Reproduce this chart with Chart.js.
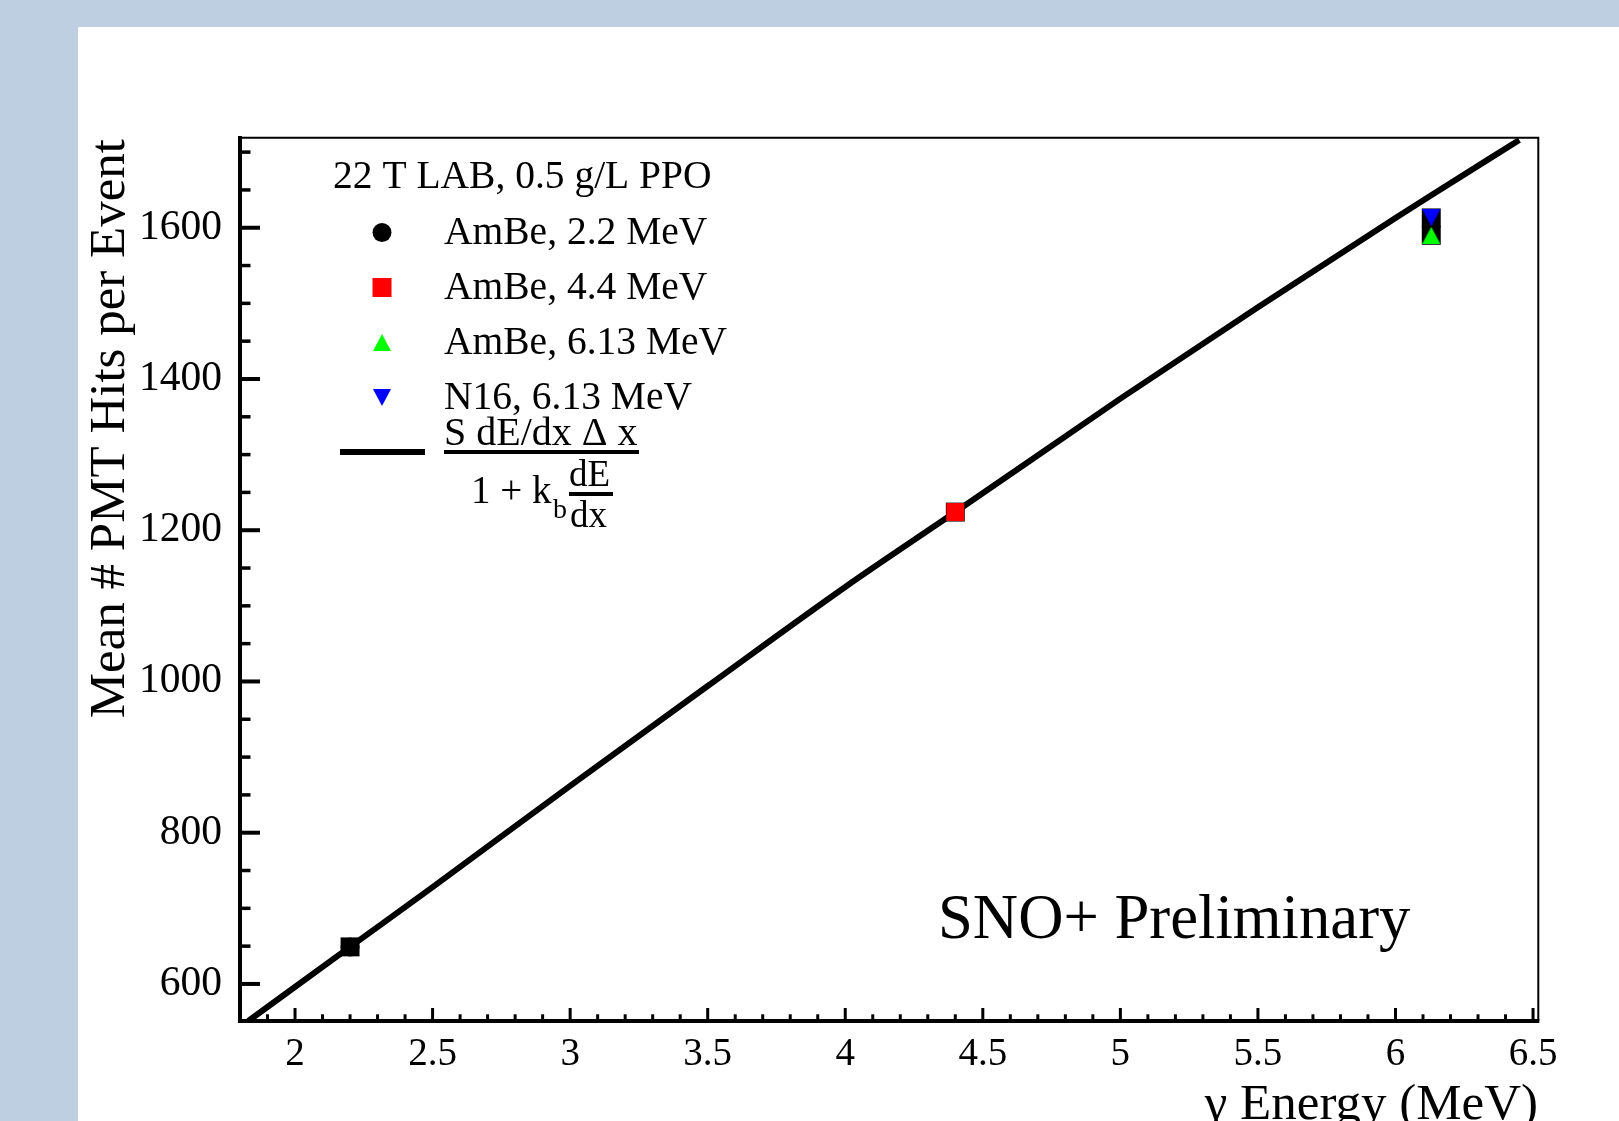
<!DOCTYPE html>
<html><head><meta charset="utf-8">
<script src="https://cdn.jsdelivr.net/npm/chart.js"></script>
<style>
html,body{margin:0;padding:0;background:#bdcfe0;overflow:hidden;width:1619px;height:1121px;}
#paper{position:absolute;left:78px;top:27px;width:1541px;height:1094px;background:#fff;}
#c{position:absolute;left:0;top:0;}
</style></head><body>
<div id="paper"></div>
<canvas id="c" width="1619" height="1121"></canvas>
<script>
// ---------------- data ----------------
const headerText = '22 T LAB, 0.5 g/L PPO';
const seriesLabels = ['AmBe, 2.2 MeV', 'AmBe, 4.4 MeV', 'AmBe, 6.13 MeV', 'N16, 6.13 MeV'];
const seriesX = [2.2, 4.4, 6.13, 6.13];
const seriesY = [649, 1224, 1590, 1613];
const fitLabel = 'S dE/dx \u0394 x / (1 + k_b dE/dx)';
const fitX = [1.83, 2.2, 2.5, 3.0, 3.5, 4.0, 4.4, 5.0, 5.5, 6.0, 6.13, 6.45];
const fitY = [551, 649, 728, 862, 994, 1125, 1224, 1374, 1495, 1613, 1643, 1716];
const xMajorTicks = [2, 2.5, 3, 3.5, 4, 4.5, 5, 5.5, 6, 6.5];
const xTickLabels = ['2', '2.5', '3', '3.5', '4', '4.5', '5', '5.5', '6', '6.5'];
const yMajorTicks = [600, 800, 1000, 1200, 1400, 1600];
const yTickLabels = ['600', '800', '1000', '1200', '1400', '1600'];
const xRange = [1.8, 6.518];
const yRange = [551, 1720];
const xTitle = '\u03b3 Energy (MeV)';
const yTitle = 'Mean # PMT Hits per Event';
const stampText = 'SNO+ Preliminary';

// ---------------- styles / helpers ----------------
const FONT = '"Liberation Serif", "Times New Roman", serif';
Chart.defaults.font.family = FONT;

function triCanvas(color, down) {
  const c = document.createElement('canvas');
  c.width = 18; c.height = 17;
  const g = c.getContext('2d');
  g.fillStyle = color;
  g.beginPath();
  if (!down) { g.moveTo(9, 0); g.lineTo(18, 17); g.lineTo(0, 17); }
  else { g.moveTo(0, 0); g.lineTo(18, 0); g.lineTo(9, 17); }
  g.closePath(); g.fill();
  return c;
}
const greenTri = triCanvas('#00ff00', false);
const blueTri = triCanvas('#0000ff', true);

const toXY = (xs, ys) => xs.map((x, i) => ({ x: x, y: ys[i] }));
function stepTicks(range, step) {
  const out = [];
  const k0 = Math.floor(range[0] / step) + 1, k1 = Math.floor(range[1] / step + 1e-9);
  for (let k = k0; k <= k1; k++) out.push(Math.round(k * step * 1000) / 1000);
  return out;
}
function isMajor(list, v) { return list.findIndex(m => Math.abs(m - v) < 1e-6); }

// ---------------- plugins ----------------
const framePlugin = {
  id: 'rootFrame',
  afterDatasetsDraw(chart) {
    const ctx = chart.ctx;
    const { left, right, top, bottom } = chart.chartArea;
    const xs = chart.scales.x, ys = chart.scales.y;
    ctx.save();
    ctx.strokeStyle = '#000';
    ctx.lineCap = 'butt';
    ctx.lineWidth = 2;
    ctx.beginPath();
    ctx.moveTo(left, top + 0.7); ctx.lineTo(right + 1.3, top + 0.7);
    ctx.moveTo(right + 0.3, top); ctx.lineTo(right + 0.3, bottom);
    ctx.stroke();
    ctx.lineWidth = 4;
    ctx.beginPath();
    ctx.moveTo(left, top - 1); ctx.lineTo(left, bottom + 2);
    ctx.moveTo(left - 2, bottom); ctx.lineTo(right + 1.3, bottom);
    ctx.stroke();
    ys.ticks.forEach(t => {
      const p = ys.getPixelForValue(t.value);
      const maj = isMajor(yMajorTicks, t.value) >= 0;
      ctx.lineWidth = maj ? 4 : 3.5;
      ctx.beginPath(); ctx.moveTo(left, p); ctx.lineTo(left + (maj ? 20 : 10.5), p); ctx.stroke();
    });
    xs.ticks.forEach(t => {
      const p = xs.getPixelForValue(t.value);
      const maj = isMajor(xMajorTicks, t.value) >= 0;
      ctx.lineWidth = 3;
      ctx.beginPath(); ctx.moveTo(p, bottom); ctx.lineTo(p, bottom - (maj ? 13 : 6.7)); ctx.stroke();
    });
    ctx.restore();
  },
  afterDraw(chart) {
    const ctx = chart.ctx;
    ctx.save();
    ctx.fillStyle = '#000';
    ctx.font = '51px ' + FONT;
    ctx.textBaseline = 'alphabetic';
    ctx.textAlign = 'right';
    ctx.fillText(xTitle, 1538, 1119);
    ctx.save();
    ctx.translate(124, 139);
    ctx.rotate(-Math.PI / 2);
    ctx.textAlign = 'right';
    ctx.fillText(yTitle, 0, 0);
    ctx.restore();
    ctx.font = '62.7px ' + FONT;
    ctx.textAlign = 'left';
    ctx.fillText(stampText, 938, 938);

    // legend
    ctx.font = '39.5px ' + FONT;
    ctx.textAlign = 'left';
    ctx.fillText(headerText, 333, 188);
    const mx = 382, tx = 444;
    const rows = [232.5, 287.5, 342.5, 397.5];
    const ds = chart.data.datasets.filter(d => d.legendRow !== undefined);
    ds.forEach(d => {
      const y = rows[d.legendRow];
      ctx.fillStyle = d.backgroundColor;
      if (d.pointStyle === 'circle') {
        ctx.beginPath(); ctx.arc(mx, y, 9.5, 0, Math.PI * 2); ctx.fill();
      } else if (d.pointStyle === 'rect') {
        ctx.fillRect(mx - 9.5, y - 9.5, 19, 19);
      } else {
        ctx.drawImage(d.pointStyle, mx - 9, y - 8.5);
      }
      ctx.fillStyle = '#000';
      ctx.fillText(d.label, tx, y + 11);
    });
    ctx.strokeStyle = '#000';
    ctx.lineWidth = 6;
    ctx.beginPath(); ctx.moveTo(340, 452); ctx.lineTo(425, 452); ctx.stroke();
    const parts = fitLabel.split(' / ');
    ctx.font = '40px ' + FONT;
    ctx.fillText(parts[0], 444, 445);
    ctx.lineWidth = 4;
    ctx.beginPath(); ctx.moveTo(444, 452); ctx.lineTo(639, 452); ctx.stroke();
    ctx.font = '39px ' + FONT;
    ctx.fillText('1 + k', 471, 503);
    ctx.font = '28px ' + FONT;
    ctx.fillText('b', 553, 518);
    ctx.font = '37px ' + FONT;
    ctx.fillText('dE', 569, 486);
    ctx.fillText('dx', 570, 527);
    ctx.lineWidth = 4;
    ctx.beginPath(); ctx.moveTo(569, 494); ctx.lineTo(613, 494); ctx.stroke();
    ctx.restore();
  }
};

// ---------------- chart ----------------
new Chart(document.getElementById('c'), {
  type: 'scatter',
  data: {
    datasets: [
      { type: 'line', label: fitLabel, data: toXY(fitX, fitY), borderColor: '#000', borderWidth: 6,
        pointRadius: 0, fill: false, cubicInterpolationMode: 'monotone', order: 10 },
      { label: 'all points', data: toXY(seriesX, seriesY), pointStyle: 'rect', pointRadius: 13.4,
        backgroundColor: '#000', borderWidth: 0, order: 5 },
      { label: seriesLabels[0], legendRow: 0, data: [{ x: seriesX[0], y: seriesY[0] }], pointStyle: 'circle',
        pointRadius: 9.5, backgroundColor: '#000', borderWidth: 0, order: 1 },
      { label: seriesLabels[1], legendRow: 1, data: [{ x: seriesX[1], y: seriesY[1] }], pointStyle: 'rect',
        pointRadius: 12.7, backgroundColor: '#ff0000', borderWidth: 0, order: 1 },
      { label: seriesLabels[2], legendRow: 2, data: [{ x: seriesX[2], y: seriesY[2] }], pointStyle: greenTri,
        backgroundColor: '#00ff00', borderWidth: 0, order: 1 },
      { label: seriesLabels[3], legendRow: 3, data: [{ x: seriesX[3], y: seriesY[3] }], pointStyle: blueTri,
        backgroundColor: '#0000ff', borderWidth: 0, order: 1 }
    ]
  },
  options: {
    responsive: false,
    animation: false,
    devicePixelRatio: 1,
    layout: { padding: { left: 0, top: 137, right: 81, bottom: 0 } },
    plugins: { legend: { display: false }, tooltip: { enabled: false } },
    scales: {
      x: {
        type: 'linear', min: xRange[0], max: xRange[1],
        grid: { display: false, drawTicks: false }, border: { display: false },
        afterBuildTicks: s => { s.ticks = stepTicks(xRange, 0.1).map(v => ({ value: v })); },
        afterFit: s => { s.height = 100; },
        ticks: {
          autoSkip: false, maxRotation: 0, minRotation: 0, padding: 14, color: '#000',
          font: { size: 39, lineHeight: 1 },
          callback: v => { const i = isMajor(xMajorTicks, v); return i >= 0 ? xTickLabels[i] : ''; }
        }
      },
      y: {
        type: 'linear', min: yRange[0], max: yRange[1],
        grid: { display: false, drawTicks: false }, border: { display: false },
        afterBuildTicks: s => { s.ticks = stepTicks(yRange, 50).map(v => ({ value: v })); },
        afterFit: s => { s.width = 240; },
        ticks: {
          autoSkip: false, padding: 18, color: '#000',
          font: { size: 41.5, lineHeight: 1 },
          callback: v => { const i = isMajor(yMajorTicks, v); return i >= 0 ? yTickLabels[i] : ''; }
        }
      }
    }
  },
  plugins: [framePlugin]
});
</script>
</body></html>
